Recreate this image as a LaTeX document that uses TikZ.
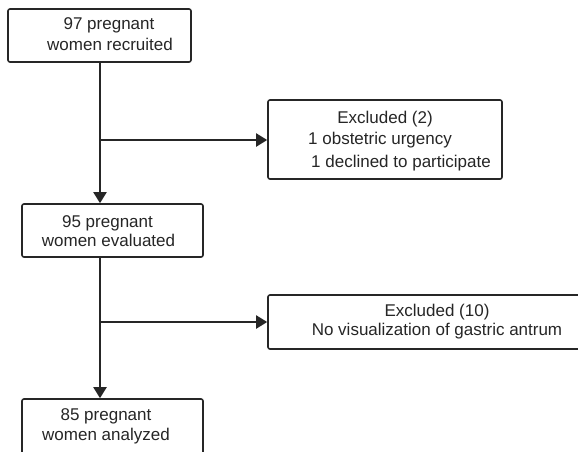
\documentclass[tikz,border=0pt]{standalone}
\usepackage{fontspec}
\setmainfont{Liberation Sans}
\usetikzlibrary{arrows.meta}
\begin{document}
\begin{tikzpicture}[x=1pt,y=-1pt,
  boxstyle/.style={draw=black!85, line width=1.6pt, rounded corners=2pt, inner sep=0pt},
  txt/.style={anchor=base, inner sep=0pt, font=\fontsize{17}{20}\selectfont, text=black!85},
  conn/.style={line width=2pt, draw=black!85, -{Triangle[length=11pt,width=13pt]}}]
\useasboundingbox (0,0) rectangle (578,451);
\clip (0,0) rectangle (578,451);
\fill[white] (0,0) rectangle (578,451);
% boxes
\node[boxstyle, minimum width=183pt, minimum height=53pt] (b1) at (99.5,35.5) {};
\node[boxstyle, minimum width=234pt, minimum height=79pt] (b2) at (385,139.5) {};
\node[boxstyle, minimum width=181pt, minimum height=53pt] (b3) at (112.5,230.5) {};
\node[boxstyle, minimum width=322pt, minimum height=54pt] (b4) at (429,322) {};
\node[boxstyle, minimum width=181pt, minimum height=61pt] (b5) at (112.5,429.5) {};
% texts
\node[txt] (t1a) at (109,29) {97 pregnant};
\node[txt] (t1b) at (110,50) {women recruited};
\node[txt] (t2a) at (385,123) {Excluded (2)};
\node[txt] (t2b) at (380,144) {1 obstetric urgency};
\node[txt] (t2c) at (401,167) {1 declined to participate};
\node[txt] (t3a) at (107.5,227) {95 pregnant};
\node[txt] (t3b) at (108.5,246) {women evaluated};
\node[txt] (t4a) at (437,316) {Excluded (10)};
\node[txt] (t4b) at (437,335) {No visualization of gastric antrum};
\node[txt] (t5a) at (106,420) {85 pregnant};
\node[txt] (t5b) at (106,440) {women analyzed};
% connectors
\coordinate (j1) at (100,140);
\coordinate (j2) at (100,322);
\coordinate (s1) at (100,62);
\coordinate (s3) at (100,257);
\draw[conn] (s1) -- (s1 |- b3.north);
\draw[conn] (j1) -- (j1 -| b2.west);
\draw[conn] (s3) -- (s3 |- b5.north);
\draw[conn] (j2) -- (j2 -| b4.west);
\end{tikzpicture}
\end{document}
